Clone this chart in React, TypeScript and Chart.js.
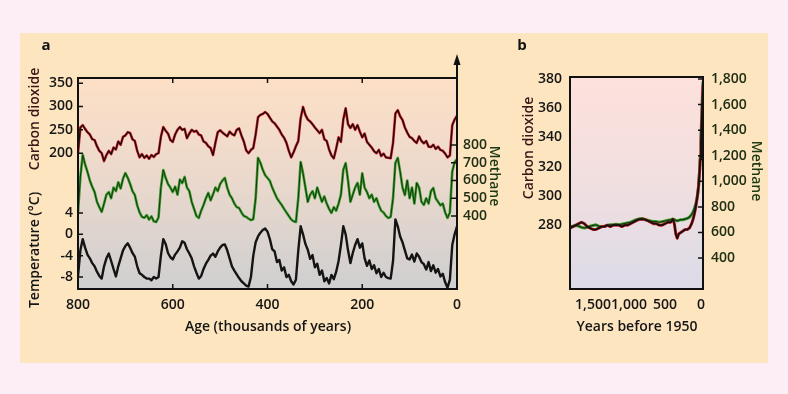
import { useEffect, useRef } from 'react';
import { Chart, registerables } from 'chart.js';
Chart.register(...registerables);

const FONT = '"Open Sans", "DejaVu Sans", sans-serif';
const WEIGHT = '600';

// ---------- Panel a : ice-core records (thousands of years before present) ----------
const ageKa = [
  800, 795, 790, 785, 780, 775, 770, 765, 760, 755,
  750, 745, 740, 735, 730, 725, 720, 715, 710, 705,
  700, 695, 690, 685, 680, 675, 670, 665, 660, 655,
  650, 645, 640, 635, 630, 625, 620, 615, 610, 605,
  600, 595, 590, 585, 580, 575, 570, 565, 560, 555,
  550, 545, 540, 535, 530, 525, 520, 515, 510, 505,
  500, 495, 490, 485, 480, 475, 470, 465, 460, 455,
  450, 445, 440, 435, 430, 425, 420, 415, 410, 405,
  400, 395, 390, 385, 380, 375, 370, 365, 360, 355,
  350, 345, 340, 335, 330, 325, 320, 315, 310, 305,
  300, 295, 290, 285, 280, 275, 270, 265, 260, 255,
  250, 245, 240, 235, 230, 225, 220, 215, 210, 205,
  200, 195, 190, 185, 180, 175, 170, 165, 160, 155,
  150, 145, 140, 135, 130, 125, 120, 115, 110, 105,
  100, 95, 90, 85, 80, 75, 70, 65, 60, 55,
  50, 45, 40, 35, 30, 25, 20, 15, 10, 5,
  0,
];

const co2A = [
  200, 255, 260, 252, 245, 240, 230, 228, 215, 205,
  200, 183, 196, 205, 198, 212, 208, 225, 218, 235,
  238, 245, 243, 230, 226, 205, 191, 198, 190, 195,
  188, 196, 192, 198, 200, 235, 256, 248, 242, 228,
  224, 240, 250, 256, 250, 252, 232, 242, 250, 246,
  248, 240, 238, 225, 222, 215, 211, 196, 222, 245,
  249, 244, 240, 236, 246, 241, 238, 250, 253, 238,
  225, 206, 200, 207, 211, 240, 277, 282, 284, 288,
  284, 276, 268, 264, 257, 250, 240, 233, 222, 205,
  191, 202, 215, 226, 275, 299, 282, 272, 268, 262,
  255, 249, 243, 250, 230, 226, 208, 195, 189, 210,
  234, 224, 272, 296, 262, 254, 262, 250, 260, 246,
  234, 242, 224, 218, 212, 204, 200, 207, 194, 199,
  191, 190, 189, 222, 285, 292, 279, 271, 255, 244,
  235, 232, 226, 222, 236, 226, 221, 226, 214, 213,
  218, 209, 214, 207, 205, 199, 191, 195, 260, 272,
  280,
];

const ch4A = [
  420, 620, 744, 690, 648, 600, 565, 535, 480, 450,
  423, 470, 520, 535, 500, 560, 540, 590, 555, 610,
  642, 615, 580, 540, 518, 460, 420, 395, 390, 405,
  380, 398, 370, 366, 392, 560, 659, 615, 580, 560,
  535, 565, 520, 605, 585, 620, 560, 540, 480, 440,
  400, 389, 430, 462, 500, 530, 488, 522, 560, 540,
  580, 600, 614, 560, 520, 500, 470, 450, 445, 420,
  400, 395, 385, 377, 382, 500, 727, 700, 660, 630,
  614, 598, 560, 530, 500, 480, 462, 440, 420, 400,
  380, 370, 366, 500, 704, 640, 560, 479, 520, 540,
  500, 560, 518, 480, 510, 470, 440, 417, 450, 430,
  470, 520, 660, 698, 600, 479, 520, 560, 586, 520,
  640, 560, 535, 500, 520, 480, 500, 460, 430, 420,
  400, 389, 395, 500, 700, 727, 650, 560, 518, 600,
  500, 560, 470, 586, 560, 480, 462, 500, 470, 540,
  558, 500, 480, 460, 470, 420, 389, 420, 650, 704,
  720,
];

const tempA = [
  -7.9, -3, -0.9, -2.5, -3.8, -4.5, -5.4, -6, -7, -7.8,
  -8.3, -6, -4.5, -3.6, -5, -6.5, -7.9, -6, -4.5, -3,
  -2.2, -1.7, -2.5, -3.5, -4.2, -6, -7.3, -7.6, -8, -8.3,
  -8.3, -8.6, -8, -8.3, -8, -4, -0.9, -1.8, -3.5, -4.3,
  -4.7, -3.8, -3.2, -2.5, -1.3, -1.6, -2.8, -3.6, -4.5, -6,
  -7.2, -8.3, -7.8, -6.5, -5.5, -4.8, -4, -3.6, -4.2, -3.2,
  -2.5, -2, -1.9, -3, -4.5, -6, -6.8, -7.5, -8.2, -8.8,
  -9.2, -9.6, -9.8, -8, -4, -1.5, -0.4, 0.3, 0.8, 1.1,
  0.5, -0.9, -2.8, -3.2, -5.2, -4.8, -6.8, -6.2, -8.0, -7.6,
  -8.8, -9.4, -8.5, -3, 1.5, 0, -1.8, -2.9, -4.6, -3.9,
  -6.2, -5.5, -7.6, -6.8, -8.8, -8.2, -9.2, -7.6, -8.4, -7.0,
  -5, -2, 1.5, 0, -3, -5.4, -3.5, -2, -0.9, -2.5,
  -1.7, -4.5, -5.9, -4.9, -6.5, -5.8, -7.3, -6.5, -8.0, -7.2,
  -8, -8.2, -8.3, -5, 2.8, 1.5, -0.4, -1.5, -3, -4.5,
  -4.7, -3.8, -5.1, -3.6, -4.2, -5.2, -5.6, -6.6, -5.2, -6.9,
  -5.8, -7.2, -6.5, -7.9, -7.4, -9.0, -10, -8.5, -2, 0,
  1.5,
];

const ageTicks = [0, 200, 400, 600, 800];
const co2TicksA = [200, 250, 300, 350];
const tempTicks = [-8, -4, 0, 4];
const ch4TicksA = [400, 500, 600, 700, 800];

// ---------- Panel b : last two millennia (years before 1950) ----------
const yearsBP = [
  1820, 1780, 1740, 1700, 1660, 1620, 1580, 1540, 1500, 1460,
  1420, 1380, 1340, 1300, 1260, 1220, 1180, 1140, 1100, 1060,
  1020, 980, 940, 900, 860, 820, 780, 740, 700, 660,
  620, 580, 540, 500, 460, 420, 390, 370, 350, 330,
  310, 280, 250, 220, 190, 160, 130, 110, 90, 70,
  50, 35, 20, 10, 0, -10, -20, -28,
];
const co2B = [
  278, 279, 280, 281, 282, 281, 279, 278, 277, 277,
  278, 279, 279, 280, 279, 280, 280, 280, 279, 280,
  280, 281, 282, 283, 284, 284, 284, 283, 282, 281,
  281, 280, 280, 281, 282, 282, 284, 281, 274, 271,
  274, 275, 276, 277, 277, 278, 281, 284, 288, 293,
  300, 306, 316, 325, 336, 350, 364, 376,
];
const ch4B = [
  645, 650, 655, 650, 640, 635, 640, 650, 655, 660,
  650, 645, 650, 655, 660, 660, 665, 660, 665, 670,
  675, 680, 690, 700, 705, 710, 700, 695, 690, 685,
  685, 680, 685, 690, 695, 700, 705, 700, 695, 690,
  695, 700, 700, 705, 710, 720, 740, 760, 790, 830,
  880, 950, 1080, 1200, 1350, 1500, 1680, 1780,
];
const yearTicks = [0, 500, 1000, 1500];
const co2TicksB = [280, 300, 320, 340, 360, 380];
const ch4TicksB = [400, 600, 800, 1000, 1200, 1400, 1600, 1800];

const pts = (xs: number[], ys: number[]) => xs.map((x, i) => ({ x, y: ys[i] }));
const fixTicks = (vals: number[]) => (s: any) => { s.ticks = vals.map((v) => ({ value: v })); };

function vText(ctx: CanvasRenderingContext2D, text: string, x: number, y: number, rot: number, color: string, font: string, align: CanvasTextAlign = 'center') {
  ctx.save();
  ctx.translate(x, y);
  ctx.rotate(rot);
  ctx.textAlign = align;
  ctx.textBaseline = 'middle';
  ctx.fillStyle = color;
  ctx.font = font;
  ctx.fillText(text, 0, 0);
  ctx.restore();
}

const CO2_TITLE = '#3a1616';
const CH4_TITLE = '#1f3a12';
const CH4_TICK = '#202e14';
const TXT = `${WEIGHT} 14px ${FONT}`;

const line = (data: any, axis: string, color: string, width: number) => ({
  data, yAxisID: axis, borderColor: color, borderWidth: width, pointRadius: 0,
  tension: 0, fill: false, borderJoinStyle: 'round' as const,
});

const axisBase = (color: string) => ({
  grid: { display: false, drawTicks: false },
  border: { display: false },
  ticks: { font: { family: FONT, size: 14, weight: WEIGHT }, color, autoSkip: false, maxRotation: 0 },
});

const panelAPlugin = {
  id: 'panelA',
  beforeDraw(chart: any) {
    const { ctx, chartArea: { left, top, right, bottom } } = chart;
    const g = ctx.createLinearGradient(0, top, 0, bottom);
    g.addColorStop(0, '#fde0c6');
    g.addColorStop(0.45, '#ecd9cc');
    g.addColorStop(1, '#cfcfd0');
    ctx.save();
    ctx.fillStyle = g;
    ctx.fillRect(left, top, right - left, bottom - top);
    ctx.restore();
  },
  afterDraw(chart: any) {
    const { ctx, chartArea: { left, top, right, bottom }, scales } = chart;
    ctx.save();
    ctx.strokeStyle = '#111';
    ctx.lineWidth = 2;
    ctx.beginPath();
    ctx.moveTo(right, bottom);
    ctx.lineTo(left, bottom);
    ctx.lineTo(left, top);
    ctx.lineTo(right, top);
    ctx.moveTo(right, bottom + 1);
    ctx.lineTo(right, top - 16);
    ctx.stroke();
    ctx.fillStyle = '#111';
    ctx.beginPath();
    ctx.moveTo(right, top - 24);
    ctx.lineTo(right - 3.5, top - 13);
    ctx.lineTo(right + 3.5, top - 13);
    ctx.closePath();
    ctx.fill();
    ctx.lineWidth = 1.5;
    ctx.beginPath();
    [200, 400, 600].forEach((v) => {
      const x = scales.x.getPixelForValue(v);
      ctx.moveTo(x, top); ctx.lineTo(x, top + 5);
      ctx.moveTo(x, bottom); ctx.lineTo(x, bottom - 5);
    });
    co2TicksA.forEach((v) => { const y = scales.yC.getPixelForValue(v); ctx.moveTo(left, y); ctx.lineTo(left + 5, y); });
    tempTicks.forEach((v) => { const y = scales.yT.getPixelForValue(v); ctx.moveTo(left, y); ctx.lineTo(left + 5, y); });
    ch4TicksA.forEach((v) => { const y = scales.yM.getPixelForValue(v); ctx.moveTo(right, y); ctx.lineTo(right - 6, y); });
    ctx.stroke();
    ctx.restore();
    tempTicks.forEach((v) => {
      vText(ctx, String(v), left - 5, scales.yT.getPixelForValue(v), 0, '#151515', TXT, 'right');
    });
    vText(ctx, 'a', 46, 46, 0, '#111', `bold 15px ${FONT}`);
    vText(ctx, 'Carbon dioxide', 35, 119, -Math.PI / 2, CO2_TITLE, TXT);
    vText(ctx, 'Temperature (°C)', 35, 250, -Math.PI / 2, '#151515', TXT);
    vText(ctx, 'Methane', 494, 176, Math.PI / 2, CH4_TITLE, TXT);
    vText(ctx, 'Age (thousands of years)', 268, 327, 0, '#151515', TXT);
  },
};

const panelBPlugin = {
  id: 'panelB',
  beforeDraw(chart: any) {
    const { ctx, chartArea: { left, top, right, bottom } } = chart;
    const g = ctx.createLinearGradient(0, top, 0, bottom);
    g.addColorStop(0, '#fde1dc');
    g.addColorStop(0.5, '#f1dfe0');
    g.addColorStop(1, '#dcdbe8');
    ctx.save();
    ctx.fillStyle = g;
    ctx.fillRect(left, top, right - left, bottom - top);
    ctx.restore();
  },
  afterDraw(chart: any) {
    const { ctx, chartArea: { left, top, right, bottom }, scales } = chart;
    ctx.save();
    ctx.strokeStyle = '#111';
    ctx.lineWidth = 2;
    ctx.strokeRect(left, top, right - left, bottom - top);
    ctx.lineWidth = 1.5;
    ctx.beginPath();
    ch4TicksB.forEach((v) => { const y = scales.yM.getPixelForValue(v); ctx.moveTo(right, y); ctx.lineTo(right - 5, y); });
    ctx.stroke();
    ctx.restore();
    const o = 510;
    vText(ctx, 'b', 522 - o, 46, 0, '#111', `bold 15px ${FONT}`);
    vText(ctx, 'Carbon dioxide', 529 - o, 148, -Math.PI / 2, CO2_TITLE, TXT);
    vText(ctx, 'Methane', 756 - o, 171, Math.PI / 2, CH4_TITLE, TXT);
    vText(ctx, 'Years before 1950', 637 - o, 327, 0, '#151515', TXT);
  },
};

export default function App() {
  const refA = useRef<HTMLCanvasElement>(null);
  const refB = useRef<HTMLCanvasElement>(null);

  useEffect(() => {
    const chartA = new Chart(refA.current!, {
      type: 'line',
      data: {
        datasets: [
          line(pts(ageKa, co2A), 'yC', '#140a0a', 1.3),
          line(pts(ageKa, co2A), 'yC', '#d8222c', 2.6),
          line(pts(ageKa, ch4A), 'yM', '#123a10', 1.0),
          line(pts(ageKa, ch4A), 'yM', '#3a9a2a', 2.6),
          line(pts(ageKa, tempA), 'yT', '#141414', 2.4),
        ] as any,
      },
      options: {
        responsive: false,
        animation: false,
        events: [],
        layout: { padding: { top: 78, left: 0, right: 0, bottom: 0 } },
        plugins: { legend: { display: false }, tooltip: { enabled: false } },
        scales: {
          x: {
            type: 'linear', reverse: true, min: 0, max: 800, position: 'bottom',
            afterFit: (s: any) => { s.height = 105; },
            afterBuildTicks: fixTicks(ageTicks),
            ...axisBase('#151515'),
            ticks: { ...axisBase('#151515').ticks, padding: 8 },
          },
          yC: {
            type: 'linear', position: 'left', min: -91, max: 361,
            afterFit: (s: any) => { s.width = 78; },
            afterBuildTicks: fixTicks(co2TicksA),
            ...axisBase('#151515'),
            ticks: { ...axisBase('#151515').ticks, padding: 5 },
          },
          yT: {
            type: 'linear', display: false, min: -10.25, max: 29.3,
          },
          yM: {
            type: 'linear', position: 'right', min: -11, max: 1177,
            afterFit: (s: any) => { s.width = 53; },
            afterBuildTicks: fixTicks(ch4TicksA),
            ...axisBase(CH4_TICK),
            ticks: { ...axisBase(CH4_TICK).ticks, padding: 6 },
          },
        },
      } as any,
      plugins: [panelAPlugin],
    });

    const chartB = new Chart(refB.current!, {
      type: 'line',
      data: {
        datasets: [
          line(pts(yearsBP, co2B), 'yC', '#141010', 1.8),
          line(pts(yearsBP, ch4B), 'yM', '#123a10', 1.2),
          line(pts(yearsBP, co2B), 'yC', '#d2202a', 3.0),
          line(pts(yearsBP, ch4B), 'yM', '#3a9a2a', 3.0),
        ] as any,
      },
      options: {
        responsive: false,
        animation: false,
        events: [],
        layout: { padding: { top: 77, left: 0, right: 0, bottom: 0 } },
        plugins: { legend: { display: false }, tooltip: { enabled: false } },
        scales: {
          x: {
            type: 'linear', reverse: true, min: -28, max: 1820, position: 'bottom',
            afterFit: (s: any) => { s.height = 105; },
            afterBuildTicks: fixTicks(yearTicks),
            ...axisBase('#151515'),
            ticks: { ...axisBase('#151515').ticks, padding: 8, callback: (v: any) => Number(v).toLocaleString('en-US') },
          },
          yC: {
            type: 'linear', position: 'left', min: 236.3, max: 381.4,
            afterFit: (s: any) => { s.width = 60; },
            afterBuildTicks: fixTicks(co2TicksB),
            ...axisBase('#151515'),
            ticks: { ...axisBase('#151515').ticks, padding: 8 },
          },
          yM: {
            type: 'linear', position: 'right', min: 158, max: 1816,
            afterFit: (s: any) => { s.width = 85; },
            afterBuildTicks: fixTicks(ch4TicksB),
            ...axisBase(CH4_TICK),
            ticks: { ...axisBase(CH4_TICK).ticks, padding: 8, callback: (v: any) => Number(v).toLocaleString('en-US') },
          },
        },
      } as any,
      plugins: [panelBPlugin],
    });

    return () => { chartA.destroy(); chartB.destroy(); };
  }, []);

  return (
    <div style={{ position: 'absolute', left: 0, top: 0, width: 788, height: 394, background: '#fdeef6', overflow: 'hidden' }}>
      <div style={{ position: 'absolute', left: 20, top: 33, width: 748, height: 330, background: '#fde5c0' }} />
      <canvas ref={refA} width={510} height={394} style={{ position: 'absolute', left: 0, top: 0 }} />
      <canvas ref={refB} width={278} height={394} style={{ position: 'absolute', left: 510, top: 0 }} />
    </div>
  );
}
